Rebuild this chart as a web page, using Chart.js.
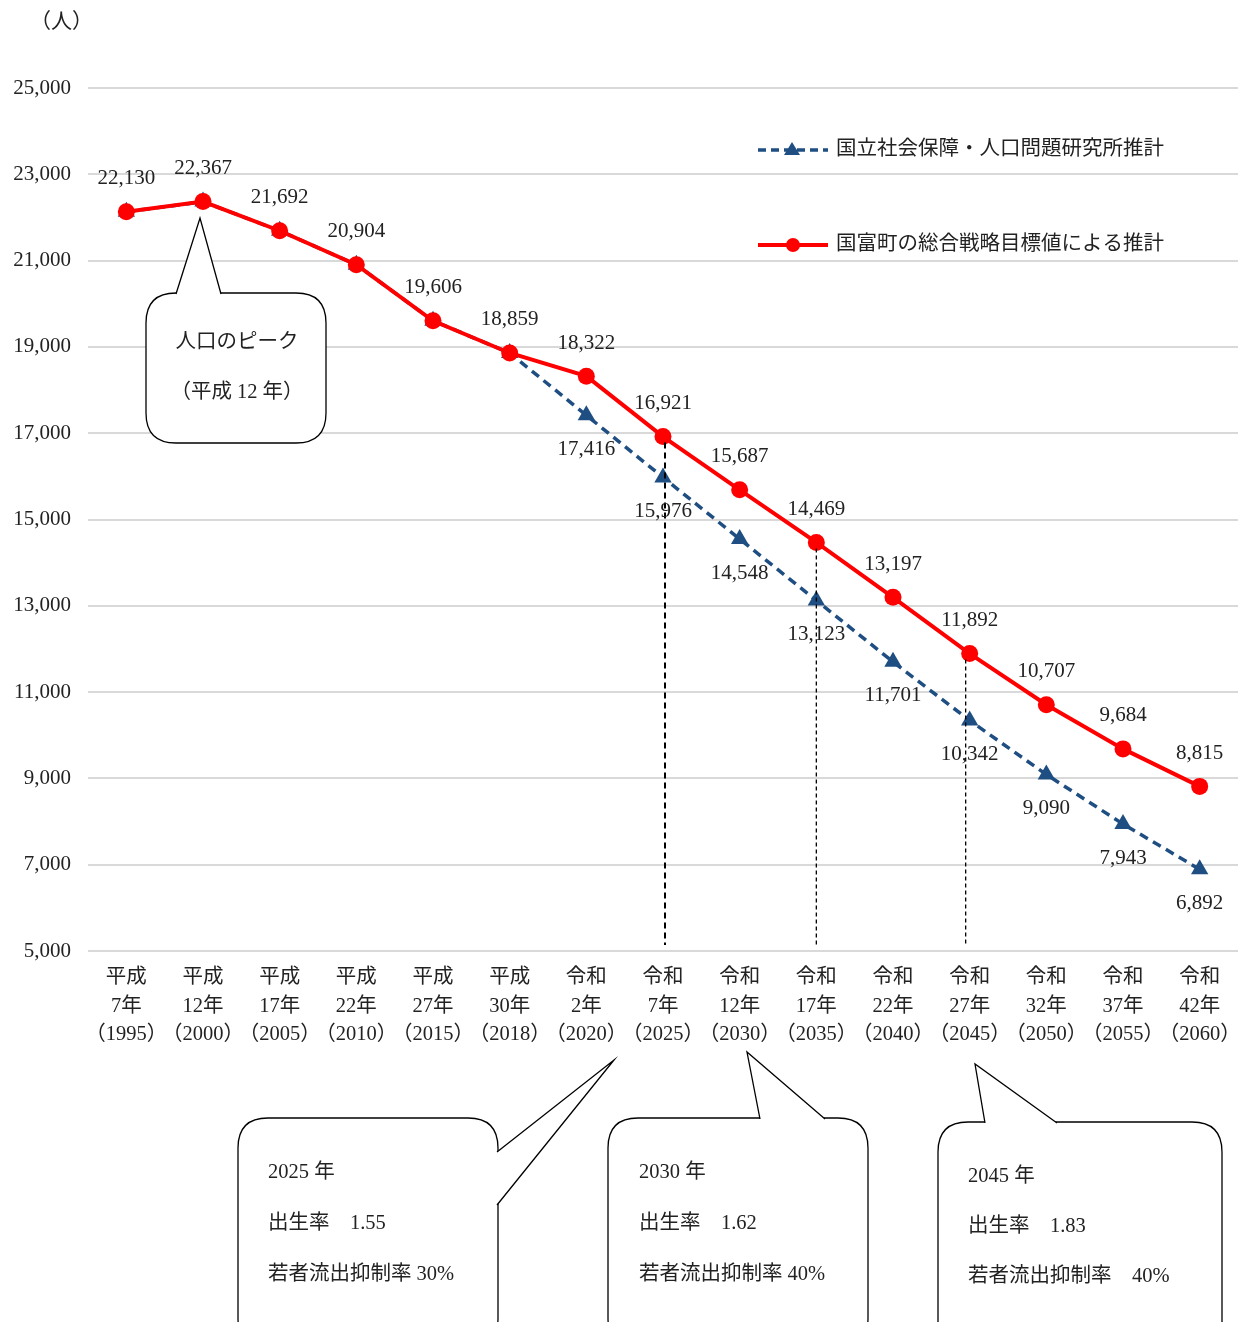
<!DOCTYPE html>
<html>
<head>
<meta charset="utf-8">
<script src="https://cdn.jsdelivr.net/npm/chart.js@4/dist/chart.umd.min.js"></script>
<style>
  html, body { margin: 0; padding: 0; background: #fff; }
  #wrap { position: relative; width: 1243px; height: 1322px; overflow: hidden; }
</style>
</head>
<body>
<div id="wrap"><canvas id="chart" width="1243" height="1322"></canvas></div>
<script>
// ---- data ----
const eraLabels = ['平成', '平成', '平成', '平成', '平成', '平成', '令和', '令和', '令和', '令和', '令和', '令和', '令和', '令和', '令和'];
const eraYears = ['7年', '12年', '17年', '22年', '27年', '30年', '2年', '7年', '12年', '17年', '22年', '27年', '32年', '37年', '42年'];
const westernYears = ['1995', '2000', '2005', '2010', '2015', '2018', '2020', '2025', '2030', '2035', '2040', '2045', '2050', '2055', '2060'];

const ipssName = '国立社会保障・人口問題研究所推計';
const ipssValues = [22130, 22367, 21692, 20904, 19606, 18859, 17416, 15976, 14548, 13123, 11701, 10342, 9090, 7943, 6892];

const townName = '国富町の総合戦略目標値による推計';
const townValues = [22130, 22367, 21692, 20904, 19606, 18859, 18322, 16921, 15687, 14469, 13197, 11892, 10707, 9684, 8815];

const yTicks = [5000, 7000, 9000, 11000, 13000, 15000, 17000, 19000, 21000, 23000, 25000];

// years that a vertical guide drops from
const guideYears = ['2025', '2035', '2045'];

const FONT = '"Liberation Serif", "Noto Sans CJK JP", serif';
const RED = '#ff0000';
const NAVY = '#1f4e82';

const labels = westernYears.map((y, i) => [eraLabels[i], eraYears[i], '（' + y + '）']);

// ---- plugins ----
const fmt = v => v.toLocaleString('en-US');

const valueLabels = {
  id: 'valueLabels',
  afterDatasetsDraw(chart) {
    const ctx = chart.ctx;
    ctx.save();
    ctx.font = '21px ' + FONT;
    ctx.fillStyle = '#222';
    ctx.textAlign = 'center';
    ctx.textBaseline = 'middle';
    const red = chart.getDatasetMeta(1).data;
    red.forEach((p, i) => ctx.fillText(fmt(townValues[i]), p.x, p.y - 33));
    const blue = chart.getDatasetMeta(0).data;
    blue.forEach((p, i) => {
      if (ipssValues[i] === townValues[i]) return;
      ctx.fillText(fmt(ipssValues[i]), p.x, p.y + 34);
    });
    ctx.restore();
  }
};

const guides = {
  id: 'guides',
  afterDatasetsDraw(chart) {
    const ctx = chart.ctx;
    const area = chart.chartArea;
    const red = chart.getDatasetMeta(1).data;
    const shift = [2, 0, -4];
    ctx.save();
    ctx.strokeStyle = '#000';
    guideYears.forEach((yr, k) => {
      const p = red[westernYears.indexOf(yr)];
      const x = p.x + shift[k];
      ctx.lineWidth = k === 0 ? 2 : 1.3;
      ctx.setLineDash(k === 0 ? [6, 4] : [4, 3]);
      ctx.beginPath();
      ctx.moveTo(x, p.y + 6);
      ctx.lineTo(x, area.bottom - 6);
      ctx.stroke();
    });
    ctx.restore();
  }
};

function roundBox(ctx, x, y, w, h, r) {
  ctx.beginPath();
  ctx.moveTo(x + r, y);
  ctx.lineTo(x + w - r, y);
  ctx.quadraticCurveTo(x + w, y, x + w, y + r);
  ctx.lineTo(x + w, y + h - r);
  ctx.quadraticCurveTo(x + w, y + h, x + w - r, y + h);
  ctx.lineTo(x + r, y + h);
  ctx.quadraticCurveTo(x, y + h, x, y + h - r);
  ctx.lineTo(x, y + r);
  ctx.quadraticCurveTo(x, y, x + r, y);
  ctx.closePath();
}

// callout: box + pointer (base point, tip, base point)
function callout(ctx, box, ptr, lines, textX, textY, gap, align) {
  ctx.save();
  roundBox(ctx, box[0], box[1], box[2], box[3], 30);
  ctx.fillStyle = '#fff';
  ctx.fill();
  ctx.strokeStyle = '#000';
  ctx.lineWidth = 1.3;
  ctx.stroke();
  ctx.beginPath();
  ctx.moveTo(ptr[0][0], ptr[0][1]);
  ctx.lineTo(ptr[1][0], ptr[1][1]);
  ctx.lineTo(ptr[2][0], ptr[2][1]);
  ctx.closePath();
  ctx.fill();
  ctx.beginPath();
  ctx.moveTo(ptr[0][0], ptr[0][1]);
  ctx.lineTo(ptr[1][0], ptr[1][1]);
  ctx.lineTo(ptr[2][0], ptr[2][1]);
  ctx.stroke();
  ctx.fillStyle = '#222';
  ctx.font = '20.5px ' + FONT;
  ctx.textAlign = align || 'left';
  ctx.textBaseline = 'middle';
  lines.forEach((t, i) => ctx.fillText(t, textX, textY + i * gap));
  ctx.restore();
}

const notes = {
  id: 'notes',
  afterDraw(chart) {
    const ctx = chart.ctx;
    // unit
    ctx.save();
    ctx.font = '21px ' + FONT;
    ctx.fillStyle = '#222';
    ctx.textBaseline = 'middle';
    ctx.fillText('（人）', 30, 22);
    ctx.restore();

    // legend
    const items = [
      { y: 150, color: NAVY, dash: [8, 5], width: 3.5, marker: 'tri', text: ipssName },
      { y: 245, color: RED, dash: [], width: 4, marker: 'dot', text: townName }
    ];
    items.forEach(it => {
      ctx.save();
      ctx.strokeStyle = it.color;
      ctx.fillStyle = it.color;
      ctx.lineWidth = it.width;
      ctx.setLineDash(it.dash);
      ctx.beginPath();
      ctx.moveTo(758, it.y);
      ctx.lineTo(828, it.y);
      ctx.stroke();
      ctx.setLineDash([]);
      ctx.beginPath();
      if (it.marker === 'tri') {
        ctx.moveTo(792, it.y - 8);
        ctx.lineTo(800, it.y + 5);
        ctx.lineTo(784, it.y + 5);
        ctx.closePath();
      } else {
        ctx.arc(793, it.y, 7, 0, Math.PI * 2);
      }
      ctx.fill();
      ctx.font = '20.5px ' + FONT;
      ctx.fillStyle = '#222';
      ctx.textBaseline = 'middle';
      ctx.fillText(it.text, 836, it.y);
      ctx.restore();
    });

    // peak note
    callout(ctx, [146, 293, 180, 150], [[176, 294], [200, 218], [221, 294]],
      ['人口のピーク', '（平成 12 年）'], 237, 343, 50, 'center');

    // bottom notes
    callout(ctx, [238, 1118, 260, 230], [[497, 1152], [614, 1060], [497, 1205]],
      ['2025 年', '出生率　1.55', '若者流出抑制率 30%'], 268, 1173, 51);
    callout(ctx, [608, 1118, 260, 230], [[760, 1119], [747, 1052], [825, 1119]],
      ['2030 年', '出生率　1.62', '若者流出抑制率 40%'], 639, 1173, 51);
    callout(ctx, [938, 1122, 284, 230], [[985, 1123], [975, 1064], [1057, 1123]],
      ['2045 年', '出生率　1.83', '若者流出抑制率　40%'], 968, 1177, 50);
  }
};

// ---- chart ----
new Chart(document.getElementById('chart'), {
  type: 'line',
  data: {
    labels,
    datasets: [
      {
        label: ipssName,
        data: ipssValues,
        borderColor: NAVY,
        backgroundColor: NAVY,
        borderWidth: 3.5,
        borderDash: [9, 6],
        pointStyle: 'triangle',
        pointRadius: 10,
        pointBorderWidth: 0,
        tension: 0,
        clip: false,
        order: 2
      },
      {
        label: townName,
        data: townValues,
        borderColor: RED,
        backgroundColor: RED,
        borderWidth: 4,
        pointStyle: 'circle',
        pointRadius: 8.5,
        pointBorderWidth: 0,
        tension: 0,
        clip: false,
        order: 1
      }
    ]
  },
  options: {
    responsive: false,
    animation: false,
    layout: { autoPadding: false, padding: { top: 88, right: 5, left: 0, bottom: 0 } },
    plugins: {
      legend: { display: false },
      tooltip: { enabled: false }
    },
    scales: {
      x: {
        offset: true,
        grid: { display: false },
        border: { display: false },
        afterFit: s => { s.height = 1322 - 951; s.paddingLeft = 0; s.paddingRight = 0; },
        ticks: {
          color: '#222',
          font: { family: FONT, size: 20.5, lineHeight: 1.37 },
          padding: 5,
          maxRotation: 0,
          autoSkip: false
        }
      },
      y: {
        min: 5000,
        max: 25000,
        afterFit: s => { s.width = 88; s.paddingTop = 0; s.paddingBottom = 0; },
        afterBuildTicks: s => { s.ticks = yTicks.map(v => ({ value: v })); },
        grid: { color: '#d9d9d9', lineWidth: 2, drawTicks: false },
        border: { display: false },
        ticks: {
          color: '#222',
          padding: 17,
          font: { family: FONT, size: 21 },
          callback: v => fmt(v)
        }
      }
    }
  },
  plugins: [guides, valueLabels, notes]
});
</script>
</body>
</html>
